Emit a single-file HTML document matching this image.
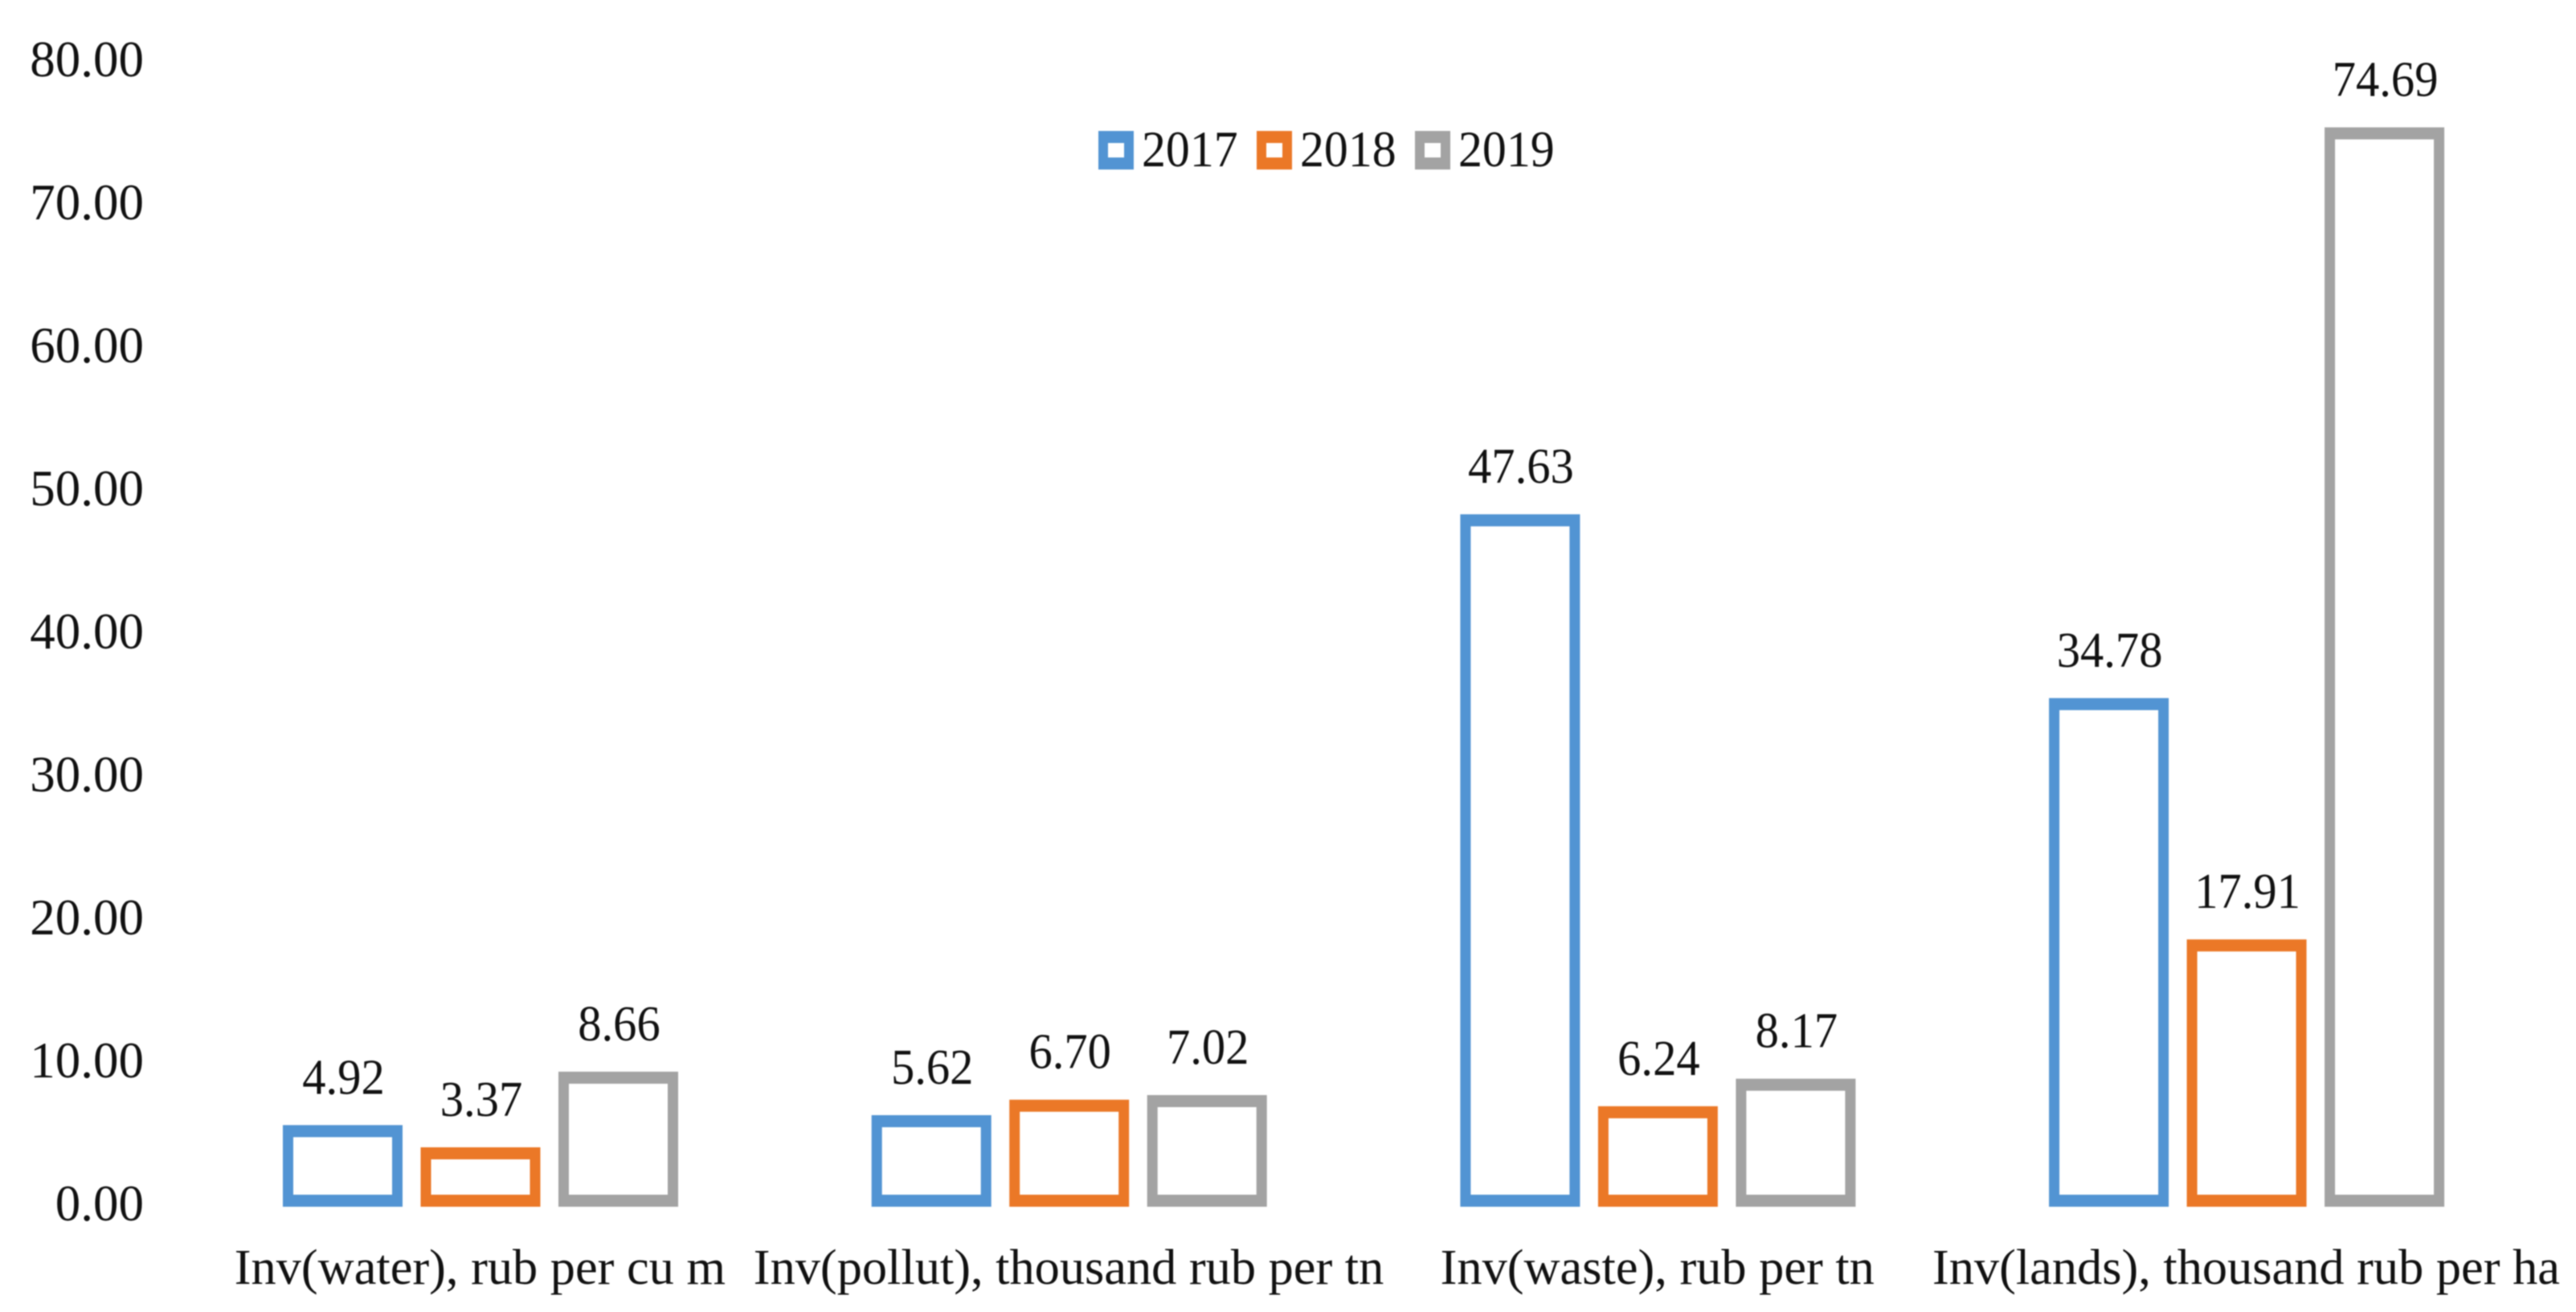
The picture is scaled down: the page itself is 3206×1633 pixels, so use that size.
<!DOCTYPE html>
<html lang="en">
<head>
<meta charset="utf-8">
<title>Investment indicators by year</title>
<style>
html,body{margin:0;padding:0;background:#fff;width:3206px;height:1633px;overflow:hidden}
svg{display:block;filter:blur(0.7px)}
text{font-family:"Liberation Serif",serif;font-size:63px;fill:#111}
</style>
</head>
<body>
<svg id="chart" xmlns="http://www.w3.org/2000/svg" width="3206" height="1633" viewBox="0 0 3206 1633"></svg>
<script>
const categories = ["Inv(water), rub per cu m", "Inv(pollut), thousand rub per tn", "Inv(waste), rub per tn", "Inv(lands), thousand rub per ha"];
const seriesNames = ["2017", "2018", "2019"];
const values2017 = [4.92, 5.62, 47.63, 34.78];
const values2018 = [3.37, 6.70, 6.24, 17.91];
const values2019 = [8.66, 7.02, 8.17, 74.69];
const yTicks = [0, 10, 20, 30, 40, 50, 60, 70, 80];

const svg = document.getElementById('chart');
const NS = 'http://www.w3.org/2000/svg';
const allSeries = [values2017, values2018, values2019];
const colors = ['#5294D3', '#EB7827', '#A3A3A3'];

const plotLeft = 232, categoryWidth = 732.7, baseline = 1495, unitHeight = 17.8;
const barWidth = 149, seriesPitch = 171.5, groupOffset = 120;
const strokeX = 13, strokeY = 15;

function yScale(v) { return baseline - v * unitHeight; }
function categoryCenter(i) { return plotLeft + categoryWidth * (i + 0.5) - 1; }
function barLeft(i, s) { return plotLeft + categoryWidth * i + groupOffset + seriesPitch * s; }

function addText(str, x, y, anchor, xStretch) {
  const t = document.createElementNS(NS, 'text');
  t.textContent = str;
  t.setAttribute('transform', 'translate(' + x + ' ' + y + ') scale(' + xStretch + ' 1)');
  t.setAttribute('text-anchor', anchor);
  svg.appendChild(t);
  return t;
}
function framePath(x0, y0, x1, y1, sx, sy) {
  return 'M' + x0 + ' ' + y0 + 'H' + x1 + 'V' + y1 + 'H' + x0 + 'Z' +
    'M' + (x0 + sx) + ' ' + (y0 + sy) + 'H' + (x1 - sx) + 'V' + (y1 - sy) + 'H' + (x0 + sx) + 'Z';
}

yTicks.forEach(function (v) {
  const el = addText(v.toFixed(2), 179, yScale(v) + 24, 'end', 1);
  
  
});

categories.forEach(function (c, i) {
  const el = addText(c, categoryCenter(i), 1598, 'middle', 0.99);
  
  
});

allSeries.forEach(function (vals, s) {
  vals.forEach(function (v, i) {
    const x0 = barLeft(i, s);
    const top = yScale(v) - 7;
    const bottom = baseline + 7;
    const bar = document.createElementNS(NS, 'path');
    bar.setAttribute('d', framePath(x0, top, x0 + barWidth, bottom, strokeX, strokeY));
    bar.setAttribute('fill', colors[s]);
    bar.setAttribute('fill-rule', 'evenodd');
    
    
    svg.appendChild(bar);

    const label = addText(v.toFixed(2), x0 + barWidth / 2 + 1, top - 39, 'middle', 0.93);
    
    
  });
});

const legendSwatchX = [1367, 1564, 1761];
seriesNames.forEach(function (name, s) {
  const x0 = legendSwatchX[s];
  const swatch = document.createElementNS(NS, 'path');
  swatch.setAttribute('d', framePath(x0, 163, x0 + 44, 211, 12, 15));
  swatch.setAttribute('fill', colors[s]);
  swatch.setAttribute('fill-rule', 'evenodd');
  
  
  svg.appendChild(swatch);

  const label = addText(name, x0 + 54, 207, 'start', 0.95);
  
  
});
</script>
</body>
</html>
